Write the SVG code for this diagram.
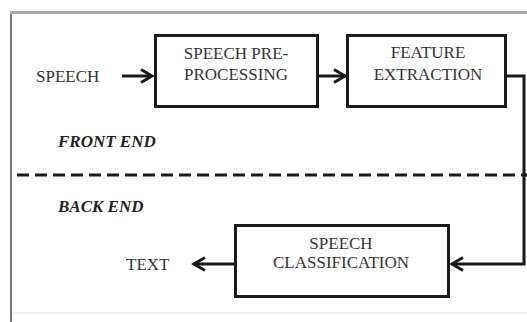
<svg xmlns="http://www.w3.org/2000/svg" width="527" height="322" viewBox="0 0 527 322">
<style>
.t{font-family:"Liberation Serif","Times New Roman",serif;font-size:17px;fill:#333}
.c{text-anchor:middle}
.bi{font-weight:bold;font-style:italic;fill:#222}
.box{fill:#fff;stroke:#1a1a1a;stroke-width:3}
.ln{fill:none;stroke:#1a1a1a;stroke-width:3}
</style>
<defs>
<marker id="ah" markerWidth="18" markerHeight="18" refX="14" refY="8" orient="auto" markerUnits="userSpaceOnUse">
<path d="M3,1.5 L14,8 L3,14.5" fill="none" stroke="#1a1a1a" stroke-width="3"/>
</marker>
</defs>
<rect width="527" height="322" fill="#fff"/>
<g id="frame">
<line x1="11" y1="12" x2="11" y2="322" stroke="#777" stroke-width="2"/>
<line x1="10" y1="12.5" x2="527" y2="12.5" stroke="#aaa" stroke-width="3"/>
<line x1="12" y1="313" x2="527" y2="313" stroke="#eee" stroke-width="1.5"/>
<line x1="17" y1="175" x2="527" y2="175" stroke="#1a1a1a" stroke-width="3" stroke-dasharray="12 6"/>
</g>
<g id="connectors">
<line class="ln" x1="122" y1="76" x2="152" y2="76" marker-end="url(#ah)"/>
<line class="ln" x1="317" y1="76" x2="345" y2="76" marker-end="url(#ah)"/>
<path class="ln" d="M505,76 H524 V264 H452" marker-end="url(#ah)"/>
<line class="ln" x1="235" y1="264" x2="194" y2="264" marker-end="url(#ah)"/>
</g>
<g id="speech-in"><text class="t" x="36" y="82">SPEECH</text></g>
<g id="preprocessing">
<rect class="box" x="155.5" y="35.5" width="162" height="71"/>
<text class="t c" x="236" y="59">SPEECH PRE-</text>
<text class="t c" x="236" y="80">PROCESSING</text>
</g>
<g id="feature-extraction">
<rect class="box" x="347.5" y="35.5" width="158" height="71"/>
<text class="t c" x="428" y="58">FEATURE</text>
<text class="t c" x="428" y="80">EXTRACTION</text>
</g>
<g id="front-end"><text class="t bi" x="58" y="147">FRONT END</text></g>
<g id="back-end"><text class="t bi" x="58" y="212">BACK END</text></g>
<g id="classification">
<rect class="box" x="235.5" y="225.5" width="213" height="71"/>
<text class="t c" x="341" y="249">SPEECH</text>
<text class="t c" x="341" y="268">CLASSIFICATION</text>
</g>
<g id="text-out"><text class="t" x="126" y="270">TEXT</text></g>
</svg>
